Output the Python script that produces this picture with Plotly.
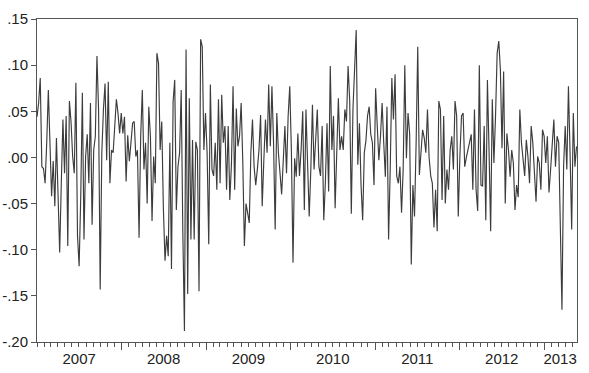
import pandas as pd
import plotly.graph_objects as go

# Weekly returns (one list per calendar year)
r2007 = [0.044, 0.059, 0.086, -0.010, -0.012, -0.028, 0.016, 0.073, 0.016, -0.042,
         -0.004, -0.053, 0.021, -0.031, -0.103, -0.028, 0.041, -0.017, 0.045, -0.096,
         0.061, 0.039, 0.001, -0.017, 0.081, -0.085, -0.118, -0.042, 0.070, -0.089,
         0.001, 0.025, -0.028, 0.059, -0.073, 0.008, 0.023, 0.110, 0.052, -0.143,
         0.005, 0.052, 0.080, -0.003, 0.082, -0.028, 0.008, 0.005, 0.037, 0.063,
         0.048, 0.026, 0.048]
r2008 = [0.026, 0.044, -0.026, 0.024, -0.004, 0.016, 0.037, 0.039, 0.001, 0.008,
         -0.087, 0.023, 0.073, -0.013, 0.016, -0.050, 0.055, 0.023, -0.069, 0.001,
         -0.028, 0.113, 0.102, 0.008, 0.039, -0.055, -0.112, -0.085, -0.107, 0.016,
         -0.121, 0.060, 0.084, -0.057, -0.010, 0.005, 0.073, -0.080, -0.188, 0.117,
         -0.148, 0.064, -0.089, 0.019, -0.089, 0.017, 0.008, -0.145, 0.128, 0.120,
         0.008, 0.048]
r2009 = [0.005, -0.094, 0.079, -0.013, -0.020, 0.016, -0.035, 0.063, -0.028, 0.068,
         0.016, 0.034, -0.035, 0.034, -0.046, -0.008, 0.077, -0.035, 0.053, 0.012,
         0.023, 0.059, -0.003, -0.096, -0.050, -0.060, -0.071, 0.005, 0.041, -0.010,
         -0.030, -0.013, 0.008, 0.046, -0.053, -0.003, 0.041, 0.005, 0.079, 0.012,
         0.077, 0.016, -0.078, 0.048, 0.005, -0.017, -0.040, -0.003, 0.034, -0.017,
         0.045, 0.077]
r2010 = [0.008, -0.114, -0.001, -0.021, 0.026, -0.020, 0.008, 0.050, -0.057, 0.052,
         0.001, -0.064, -0.013, 0.057, -0.013, 0.016, 0.052, -0.010, -0.020, 0.034,
         -0.068, -0.026, 0.037, -0.037, 0.099, 0.008, 0.045, -0.055, 0.016, 0.064,
         0.008, 0.023, 0.008, 0.052, 0.039, 0.099, 0.062, -0.061, 0.052, 0.102,
         0.138, -0.008, 0.037, -0.030, -0.068, 0.005, 0.018, 0.045, 0.055, 0.025,
         0.016, -0.030]
r2011 = [0.075, 0.034, -0.003, 0.023, 0.059, 0.016, -0.021, 0.055, -0.089, -0.013,
         0.086, 0.041, 0.090, -0.020, -0.028, -0.010, -0.060, -0.013, 0.100, -0.001,
         0.048, 0.026, -0.116, -0.030, -0.064, 0.016, 0.120, -0.019, 0.001, 0.030,
         0.021, 0.005, 0.052, 0.000, -0.020, -0.028, -0.076, -0.035, -0.080, 0.061,
         0.052, -0.046, 0.045, -0.050, -0.013, -0.035, 0.008, 0.023, -0.013, 0.061,
         0.045, -0.064]
r2012 = [0.001, 0.045, 0.048, -0.010, 0.000, 0.008, 0.016, 0.025, -0.035, 0.052,
         -0.035, -0.058, 0.100, -0.030, -0.031, 0.034, -0.068, 0.084, 0.008, -0.080,
         0.063, -0.006, 0.045, 0.113, 0.126, 0.095, 0.010, 0.093, -0.050, 0.026,
         0.008, -0.021, 0.008, -0.006, -0.057, -0.030, -0.043, 0.052, 0.016, 0.001,
         -0.020, 0.019, 0.001, -0.028, 0.034, 0.016, -0.010, -0.048, 0.001, -0.006,
         -0.035, 0.030, 0.023]
r2013 = [-0.006, 0.023, -0.038, -0.013, 0.016, 0.041, -0.010, 0.023, 0.016, -0.074,
         -0.165, -0.010, 0.034, -0.013, 0.077, 0.005, -0.078, 0.048, -0.010, 0.012]

values = r2007 + r2008 + r2009 + r2010 + r2011 + r2012 + r2013
dates = pd.date_range("2007-01-01", periods=len(values), freq="7D")

y_ticks = [-0.20, -0.15, -0.10, -0.05, 0.0, 0.05, 0.10, 0.15]
y_labels = ["-.20", "-.15", "-.10", "-.05", ".00", ".05", ".10", ".15"]
year_labels = ["2007", "2008", "2009", "2010", "2011", "2012", "2013"]
year_label_pos = ["2007-07-02", "2008-07-01", "2009-07-02", "2010-07-02",
                  "2011-07-02", "2012-07-01", "2013-03-10"]
year_bounds = ["2008-01-01", "2009-01-01", "2010-01-01", "2011-01-01",
               "2012-01-01", "2013-01-01"]
x_range = ["2007-01-01", "2013-05-22"]

FONT = "Liberation Sans, Arial, sans-serif"
AX = "#555555"

fig = go.Figure()
fig.add_trace(go.Scatter(x=dates, y=values, mode="lines",
                         line=dict(color="#3c3c3c", width=1.15), hoverinfo="skip"))
# same series registered on the label axis so that it is drawn (draws nothing itself)
fig.add_trace(go.Scatter(x=dates, y=values, mode="none", xaxis="x2",
                         hoverinfo="skip"))

fig.update_layout(
    width=589, height=373,
    margin=dict(l=37, r=12, t=19, b=31, autoexpand=False),
    paper_bgcolor="white", plot_bgcolor="white",
    showlegend=False,
    font=dict(family=FONT, size=15, color="#222222"),
    xaxis=dict(
        type="date", range=x_range, automargin=False,
        tickmode="array", tickvals=year_bounds, showticklabels=False,
        ticks="outside", ticklen=7, tickwidth=1, tickcolor=AX,
        showline=True, linecolor=AX, linewidth=1, mirror=True,
        showgrid=False, zeroline=False,
        minor=dict(ticks="outside", ticklen=4, tickwidth=1, tickcolor=AX,
                   dtick="M1", tick0="2007-01-01", showgrid=False),
    ),
    xaxis2=dict(
        type="date", range=x_range, overlaying="x", side="bottom", anchor="y",
        automargin=False,
        tickmode="array", tickvals=year_label_pos, ticktext=year_labels,
        ticks="outside", ticklen=3, tickcolor="rgba(0,0,0,0)",
        showline=False, showgrid=False, zeroline=False,
        tickfont=dict(family=FONT, size=15, color="#222222"),
    ),
    yaxis=dict(
        range=[-0.20, 0.15], automargin=False,
        tickmode="array", tickvals=y_ticks, ticktext=y_labels,
        ticks="outside", ticklen=5, tickwidth=1, tickcolor=AX,
        showline=True, linecolor=AX, linewidth=1, mirror=True,
        showgrid=False, zeroline=False,
        tickfont=dict(family=FONT, size=15, color="#222222"),
    ),
)

# remove the default 8px page margin so the figure fills the window exactly
fig.write_html("out.html", config={"displayModeBar": False},
               post_script="document.body.style.margin='0px';")
